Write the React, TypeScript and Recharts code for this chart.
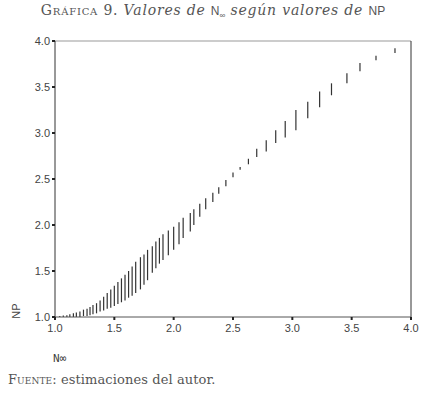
import { ComposedChart, ErrorBar, ReferenceLine, Scatter, XAxis, YAxis } from 'recharts'

// N∞ values where each vertical run of NP estimates sits
const nInf = [
  1.04, 1.07, 1.1, 1.125, 1.155, 1.18, 1.21, 1.24, 1.27, 1.295, 1.32, 1.35, 1.38, 1.41, 1.44, 1.47, 1.5, 1.53,
  1.56, 1.59, 1.62, 1.65, 1.68, 1.72, 1.75, 1.78, 1.82, 1.85, 1.88, 1.91, 1.955, 2.0, 2.045, 2.08, 2.14, 2.17,
  2.22, 2.27, 2.33, 2.38, 2.44, 2.5, 2.56, 2.63, 2.7, 2.78, 2.86, 2.94, 3.03, 3.13, 3.23, 3.33, 3.46, 3.57,
  3.705, 3.865,
]
// lowest NP seen at that N∞
const npLow = [
  1.0, 1.0, 1.0, 1.0, 1.0, 1.0, 1.0, 1.01, 1.01, 1.02, 1.03, 1.04, 1.06, 1.07, 1.09, 1.1, 1.12, 1.14,
  1.16, 1.18, 1.21, 1.23, 1.26, 1.3, 1.35, 1.4, 1.48, 1.53, 1.58, 1.62, 1.67, 1.73, 1.79, 1.86, 1.93, 2.0,
  2.09, 2.17, 2.25, 2.34, 2.42, 2.52, 2.6, 2.66, 2.74, 2.8, 2.89, 2.95, 3.03, 3.16, 3.28, 3.41, 3.54, 3.67,
  3.79, 3.87,
]
// highest NP seen at that N∞
const npHigh = [
  1.01, 1.015, 1.02, 1.03, 1.04, 1.05, 1.06, 1.08, 1.09, 1.11, 1.13, 1.15, 1.18, 1.22, 1.26, 1.3, 1.34, 1.38,
  1.42, 1.46, 1.5, 1.55, 1.6, 1.65, 1.68, 1.73, 1.77, 1.82, 1.86, 1.9, 1.94, 1.98, 2.03, 2.08, 2.13, 2.17,
  2.23, 2.29, 2.35, 2.41, 2.49, 2.57, 2.63, 2.72, 2.83, 2.92, 3.03, 3.13, 3.25, 3.34, 3.45, 3.54, 3.65, 3.76,
  3.84, 3.92,
]
const ticks = [1.0, 1.5, 2.0, 2.5, 3.0, 3.5, 4.0]

const points = nInf.map((x, i) => {
  const mid = (npLow[i] + npHigh[i]) / 2
  return { x, mid, range: [mid - npLow[i], npHigh[i] - mid] }
})

const sans = 'Liberation Sans, Arial, sans-serif'
const serif = '"DejaVu Serif", "Liberation Serif", serif'
const tickStyle = { fontFamily: sans, fontSize: 11, fill: '#444' }

export default function App() {
  return (
    <div style={{ position: 'relative', width: 426, height: 396, background: '#fff' }}>
      <style>{'body{margin:0}'}</style>
      <div
        style={{
          position: 'absolute',
          top: 2,
          left: 0,
          width: 426,
          textAlign: 'center',
          fontFamily: serif,
          fontSize: 14,
          letterSpacing: 0.8,
          color: '#555',
          whiteSpace: 'nowrap',
        }}
      >
        <span style={{ fontVariant: 'small-caps' }}>Gráfica</span> 9. <i>Valores de</i>{' '}
        <span style={{ fontFamily: sans, fontSize: 12, letterSpacing: 0 }}>
          N<sub style={{ fontSize: 8 }}>∞</sub>
        </span>{' '}
        <i>según valores de</i>{' '}
        <span style={{ fontFamily: sans, fontSize: 12, letterSpacing: 0 }}>NP</span>
      </div>
      <ComposedChart width={426} height={396} margin={{ top: 41, right: 15, bottom: 49, left: 10 }}>
        <XAxis
          dataKey="x"
          type="number"
          domain={[1, 4]}
          ticks={ticks}
          tickFormatter={(v: number) => v.toFixed(1)}
          tick={tickStyle}
          tickSize={3}
          tickMargin={4}
          height={30}
          stroke="#555"
          tickLine={{ stroke: '#222', strokeWidth: 2 }}
          allowDataOverflow
        />
        <YAxis
          dataKey="mid"
          type="number"
          domain={[1, 4]}
          ticks={ticks}
          tickFormatter={(v: number) => v.toFixed(1)}
          tick={tickStyle}
          tickSize={3}
          tickMargin={2}
          width={45}
          stroke="#333"
          tickLine={{ stroke: '#222', strokeWidth: 2 }}
          allowDataOverflow
        />
        <ReferenceLine y={4} stroke="#999" />
        <ReferenceLine x={4} stroke="#333" />
        <Scatter data={points} shape={() => <g />} isAnimationActive={false}>
          <ErrorBar dataKey="range" direction="y" width={0} stroke="#333" strokeWidth={1.2} isAnimationActive={false} />
        </Scatter>
      </ComposedChart>
      <div
        style={{
          position: 'absolute',
          left: 16,
          top: 311,
          transform: 'translate(-50%, -50%) rotate(-90deg)',
          fontFamily: sans,
          fontSize: 11,
          color: '#444',
        }}
      >
        NP
      </div>
      <div
        style={{
          position: 'absolute',
          left: 53,
          top: 352,
          fontFamily: '"DejaVu Sans Mono", monospace',
          fontSize: 11,
          color: '#444',
        }}
      >
        N∞
      </div>
      <div
        style={{
          position: 'absolute',
          left: 8,
          top: 372,
          fontFamily: serif,
          fontSize: 13,
          letterSpacing: 0.1,
          color: '#555',
        }}
      >
        <span style={{ fontVariant: 'small-caps' }}>Fuente</span>: estimaciones del autor.
      </div>
    </div>
  )
}
